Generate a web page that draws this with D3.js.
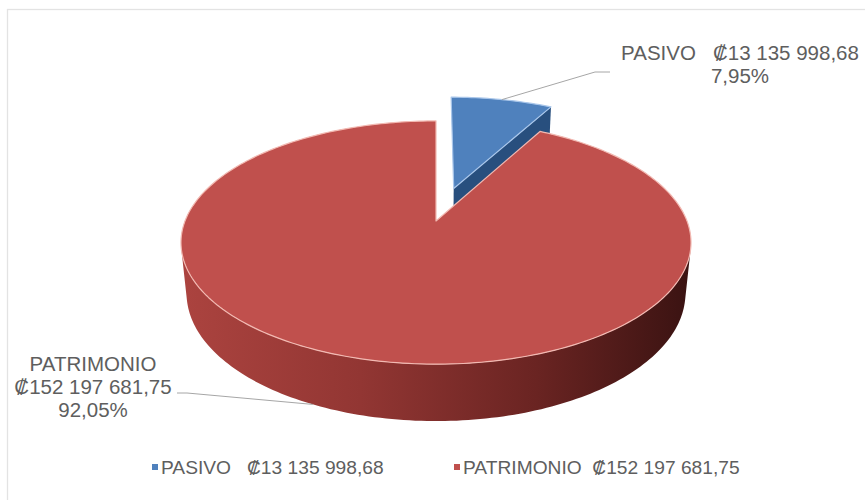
<!DOCTYPE html>
<html>
<head>
<meta charset="utf-8">
<script src="https://cdn.jsdelivr.net/npm/d3@7"></script>
<style>
  body { margin: 0; background: #fff; }
  text { font-family: "Liberation Sans", Arial, sans-serif; fill: #5e5e5e; }
</style>
</head>
<body>
<div id="chart"></div>
<script>
var categories = ["PASIVO", "PATRIMONIO"];
var amounts = ["₡13 135 998,68", "₡152 197 681,75"];
var values = [13135998.68, 152197681.75];
var percents = ["7,95%", "92,05%"];

var svgWidth = 865;
var svgHeight = 500;

var topColors = ["#4f81bd", "#c0504d"];
var sideColors = ["#284f7e", "#8e3431"];
var rimColors = ["#a9c6ea", "#f2b9b2"];

// 3d view
var cx = 436, cy = 221;
var S = 251;
var D = 4.99;
var elev = 28 * Math.PI / 180;
var cosE = Math.cos(elev), sinE = Math.sin(elev);
var T = 0.231;
var explode = [0.3, 0];

var svg = d3.select("#chart")
  .append("svg")
  .attr("width", svgWidth)
  .attr("height", svgHeight);

// chart border (runs off the right and bottom of the picture)
svg.append("rect")
  .attr("x", 7.5)
  .attr("y", 9.5)
  .attr("width", 1000)
  .attr("height", 1000)
  .attr("fill", "none")
  .attr("stroke", "#e3e3e3")
  .attr("stroke-width", 1.3);

function proj(x, y, z) {
  var v = y * cosE - z * sinE;
  var depth = D - (y * sinE + z * cosE);
  return [cx + S * D * x / depth, cy - S * D * v / depth];
}

// point at angle a, radius r, height y, shifted by slice offset
function pt(a, r, y, off) {
  return proj(off[0] + r * Math.sin(a), y, off[1] - r * Math.cos(a));
}

function arcPts(a0, a1, y, off) {
  var n = Math.max(2, Math.ceil(Math.abs(a1 - a0) / 0.02));
  var pts = [];
  for (var i = 0; i <= n; i++) {
    pts.push(pt(a0 + (a1 - a0) * i / n, 1, y, off));
  }
  return pts;
}

var line = d3.line().curve(d3.curveLinear);

var pie = d3.pie().sort(null).value(d => d);
var arcs = pie(values);

arcs.forEach((d, i) => {
  var mid = (d.startAngle + d.endAngle) / 2;
  d.off = [explode[i] * Math.sin(mid), -explode[i] * Math.cos(mid)];
  d.mid = mid;
});

var defs = svg.append("defs");
var grad = defs.append("linearGradient")
  .attr("id", "wallRed")
  .attr("gradientUnits", "userSpaceOnUse")
  .attr("x1", cx - S).attr("x2", cx + S)
  .attr("y1", 0).attr("y2", 0);
grad.append("stop").attr("offset", "0%").attr("stop-color", "#ab433f");
grad.append("stop").attr("offset", "35%").attr("stop-color", "#923633");
grad.append("stop").attr("offset", "70%").attr("stop-color", "#6a2422");
grad.append("stop").attr("offset", "100%").attr("stop-color", "#3b1312");

var g = svg.append("g");

// silhouette angles of the curved wall
var sil = Math.acos(-1 / (D * cosE));

// blue slice (behind) first, then red
[0, 1].forEach(i => {
  var d = arcs[i];
  var off = d.off;

  // radial side face on the end angle (visible for the exploded slice)
  if (explode[i] > 0) {
    var a = d.endAngle;
    var face = [pt(a, 0, 0, off), pt(a, 1, 0, off), pt(a, 1, -T, off), pt(a, 0, -T, off)];
    g.append("path")
      .attr("d", line(face) + "Z")
      .attr("fill", sideColors[i]);
  }

  // curved outer wall, front part only
  var w0 = Math.max(d.startAngle, sil);
  var w1 = Math.min(d.endAngle, 2 * Math.PI - sil);
  if (w1 > w0) {
    var wall = arcPts(w0, w1, 0, off).concat(arcPts(w1, w0, -T, off));
    g.append("path")
      .attr("d", line(wall) + "Z")
      .attr("fill", i === 1 ? "url(#wallRed)" : sideColors[i]);
  }

  // top
  var top = [pt(0, 0, 0, off)].concat(arcPts(d.startAngle, d.endAngle, 0, off));
  g.append("path")
    .attr("d", line(top) + "Z")
    .attr("fill", topColors[i])
    .attr("stroke", rimColors[i])
    .attr("stroke-width", 1.2)
    .attr("stroke-linejoin", "round");
});

// data labels
var lead = d3.line();

// PASIVO label
var p0 = pt(arcs[0].mid, 1, 0, arcs[0].off);
svg.append("path")
  .attr("d", lead([p0, [595, 72], [610, 72]]))
  .attr("fill", "none")
  .attr("stroke", "#a6a6a6")
  .attr("stroke-width", 1);

var lab0 = svg.append("text")
  .attr("text-anchor", "middle")
  .attr("font-size", 20.5)
  .style("white-space", "pre");
lab0.append("tspan").attr("x", 740).attr("y", 60).text(categories[0] + "   " + amounts[0]);
lab0.append("tspan").attr("x", 740).attr("y", 83).text(percents[0]);

// PATRIMONIO label
var p1 = pt(205 * Math.PI / 180, 1, -T, arcs[1].off);
svg.append("path")
  .attr("d", lead([p1, [187, 393], [177, 393]]))
  .attr("fill", "none")
  .attr("stroke", "#a6a6a6")
  .attr("stroke-width", 1);

var lab1 = svg.append("text")
  .attr("text-anchor", "middle")
  .attr("font-size", 20.5);
lab1.append("tspan").attr("x", 93).attr("y", 371).text(categories[1]);
lab1.append("tspan").attr("x", 93).attr("y", 394).text(amounts[1]);
lab1.append("tspan").attr("x", 93).attr("y", 417).text(percents[1]);

// legend
var legendX = [152, 454];
var legend = svg.selectAll(".legend")
  .data(categories)
  .enter()
  .append("g")
  .attr("class", "legend")
  .attr("transform", (d, i) => `translate(${legendX[i]}, 467)`);

legend.append("rect")
  .attr("x", 0)
  .attr("y", -3)
  .attr("width", 6)
  .attr("height", 6)
  .attr("fill", (d, i) => topColors[i]);

legend.append("text")
  .attr("x", 9)
  .attr("y", 7)
  .attr("font-size", 19.2)
  .style("white-space", "pre")
  .text((d, i) => i === 0 ? d + "   " + amounts[i] : d + "  " + amounts[i]);
</script>
</body>
</html>
